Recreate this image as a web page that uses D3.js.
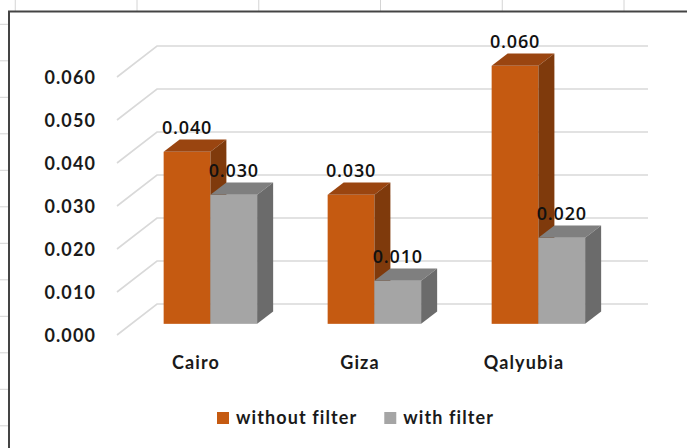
<!doctype html>
<html lang="en">

<head>
    <meta charset="UTF-8">
    <title>Document</title>
    <style>
        body {
            margin: 0;
            background: #fff;
        }
        text {
            font-family: Lato, "Open Sans", sans-serif;
            fill: #1a1a1a;
        }
        .axis-label, .cat-label, .legend-label {
            font-weight: bold;
            font-size: 18px;
            letter-spacing: 1.1px;
        }
        .value-label {
            font-family: "Open Sans", Lato, sans-serif;
            font-weight: 600;
            font-size: 18px;
            letter-spacing: 0.8px;
            fill: #111;
        }
    </style>
</head>

<body>
    <svg width="687" height="448"></svg>
    <script src="https://cdn.jsdelivr.net/npm/d3@7"></script>
    <script type="text/javascript">
    // data
    var categories = ['Cairo', 'Giza', 'Qalyubia'];
    var seriesNames = ['without filter', 'with filter'];
    var withoutFilter = [0.040, 0.030, 0.060];
    var withFilter = [0.030, 0.010, 0.020];
    var yTicks = [0, 0.01, 0.02, 0.03, 0.04, 0.05, 0.06];

    var colors = {
        'without filter': { front: '#c55a11', top: '#9a4510', side: '#7f3a0c' },
        'with filter': { front: '#a5a5a5', top: '#7f7f7f', side: '#6b6b6b' }
    };

    var svg = d3.select('svg');

    // depth of the 3d box (full depth offset) and bar slab position in it
    var DX = 40, DY = -31;
    var z0 = 0.36, z1 = 0.76;

    var x = d3.scaleBand()
        .domain(categories)
        .range([114, 606]);
    var groupWidth = 93.5;
    var x1 = d3.scaleBand()
        .domain(seriesNames)
        .range([0, groupWidth]);
    var y = d3.scaleLinear()
        .domain([0, 0.06])
        .range([335, 77]);

    // spreadsheet grid behind the chart object
    var sheet = svg.append('g');
    sheet.selectAll('.vcol')
        .data(d3.range(6))
        .enter().append('line')
        .attr('x1', function(d) { return 15.25 + d * 121.75; })
        .attr('x2', function(d) { return 15.25 + d * 121.75; })
        .attr('y1', 0)
        .attr('y2', 11)
        .attr('stroke', '#d4d4d4')
        .attr('stroke-width', 1);
    sheet.selectAll('.hrow')
        .data(d3.range(12))
        .enter().append('line')
        .attr('x1', 0)
        .attr('x2', 8)
        .attr('y1', function(d) { return 24.3 + d * 36.5; })
        .attr('y2', function(d) { return 24.3 + d * 36.5; })
        .attr('stroke', '#d4d4d4')
        .attr('stroke-width', 1);

    svg.append('rect')
        .attr('x', 9)
        .attr('y', 11.5)
        .attr('width', 720)
        .attr('height', 480)
        .attr('fill', '#fff')
        .attr('stroke', '#444')
        .attr('stroke-width', 2);

    // gridlines: side wall diagonal + back wall horizontal
    svg.append('g').selectAll('path')
        .data(yTicks)
        .enter().append('path')
        .attr('d', function(d) {
            return 'M117,' + y(d) + 'L' + (117 + DX) + ',' + (y(d) + DY) + 'L648,' + (y(d) + DY);
        })
        .attr('fill', 'none')
        .attr('stroke', '#d9d9d9')
        .attr('stroke-width', 1.6);

    svg.append('g').selectAll('text')
        .data(yTicks)
        .enter().append('text')
        .attr('class', 'axis-label')
        .attr('text-anchor', 'end')
        .attr('x', 96)
        .attr('y', function(d) { return y(d) + 6.5; })
        .text(function(d) { return d3.format('.3f')(d); });

    // bars
    var bars = [];
    categories.forEach(function(c, i) {
        bars.push({ cat: c, s: 'without filter', v: withoutFilter[i] });
        bars.push({ cat: c, s: 'with filter', v: withFilter[i] });
    });
    function left(d) {
        return x(d.cat) + x.bandwidth() / 2 - groupWidth / 2 + x1(d.s);
    }
    function pts(p) {
        return p.map(function(q) { return q.join(','); }).join(' ');
    }
    var bar = svg.append('g').selectAll('g')
        .data(bars)
        .enter().append('g');
    bar.append('rect')
        .attr('x', function(d) { return left(d) + z0 * DX; })
        .attr('y', function(d) { return y(d.v) + z0 * DY; })
        .attr('width', x1.bandwidth())
        .attr('height', function(d) { return y(0) - y(d.v); })
        .attr('fill', function(d) { return colors[d.s].front; });
    bar.append('polygon')
        .attr('points', function(d) {
            var l = left(d), r = l + x1.bandwidth(), t = y(d.v);
            return pts([[l + z0 * DX, t + z0 * DY], [r + z0 * DX, t + z0 * DY],
                [r + z1 * DX, t + z1 * DY], [l + z1 * DX, t + z1 * DY]]);
        })
        .attr('fill', function(d) { return colors[d.s].top; });
    bar.append('polygon')
        .attr('points', function(d) {
            var r = left(d) + x1.bandwidth(), t = y(d.v), b = y(0);
            return pts([[r + z0 * DX, t + z0 * DY], [r + z1 * DX, t + z1 * DY],
                [r + z1 * DX, b + z1 * DY], [r + z0 * DX, b + z0 * DY]]);
        })
        .attr('fill', function(d) { return colors[d.s].side; });

    svg.append('g').selectAll('text')
        .data(bars)
        .enter().append('text')
        .attr('class', 'value-label')
        .attr('text-anchor', 'middle')
        .attr('x', function(d) { return left(d) + x1.bandwidth() / 2 + z0 * DX; })
        .attr('y', function(d) { return y(d.v) + z1 * DY - 12 + 6.5; })
        .text(function(d) { return d3.format('.3f')(d.v); });

    // category labels
    svg.append('g').selectAll('text')
        .data(categories)
        .enter().append('text')
        .attr('class', 'cat-label')
        .attr('text-anchor', 'middle')
        .attr('x', function(d) { return x(d) + x.bandwidth() / 2; })
        .attr('y', 369)
        .text(function(d) { return d; });

    // legend
    var legend = svg.append('g');
    var lx = 217;
    seriesNames.forEach(function(s) {
        legend.append('rect')
            .attr('x', lx)
            .attr('y', 412)
            .attr('width', 12)
            .attr('height', 12)
            .attr('fill', colors[s].front);
        var t = legend.append('text')
            .attr('class', 'legend-label')
            .attr('x', lx + 19)
            .attr('y', 423.5)
            .text(s);
        lx += 19 + t.node().getComputedTextLength() + 27;
    });
    </script>
</body>

</html>
